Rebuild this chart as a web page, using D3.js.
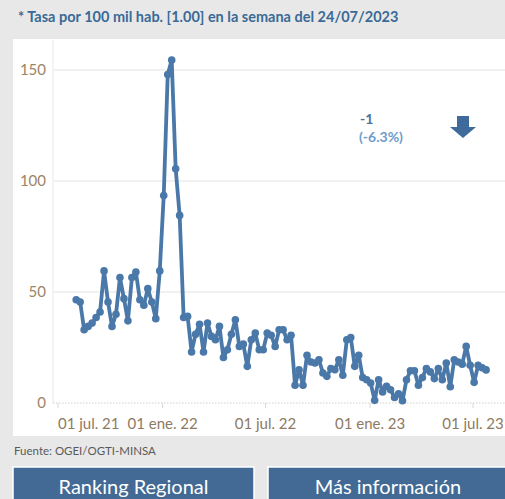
<!DOCTYPE html>
<html>
<head>
<meta charset="utf-8">
<style>
  body { margin: 0; background: #e8e8e8; }
  svg { display: block; }
  text { font-family: Lato, "Open Sans", sans-serif; }
</style>
</head>
<body>
<svg width="505" height="499"></svg>
<script src="https://cdn.jsdelivr.net/npm/d3@7"></script>
<script>
// weekly rate per 100k, weeks starting 2021-08-02 up to 2023-07-24
var firstWeek = "2021-08-02";
var rates = [
  46.5, 45.5, 33, 34.5, 36, 38.5, 41, 59.5, 45.5, 34.5,
  40, 56.5, 47, 37, 56.5, 59, 46.5, 44, 51.5, 45.5,
  38, 59.5, 93.5, 148, 154.5, 105.5, 84.5, 38.5, 39, 23,
  31, 35.5, 23, 36, 30, 28.5, 34.5, 20.5, 24, 31,
  37.5, 25.5, 26.5, 16.5, 28.5, 31.5, 24, 24, 31.5, 30.5,
  25.5, 33, 33, 28.5, 30.5, 8, 15, 8, 21.5, 18.5,
  18, 19.5, 13.5, 12, 15.5, 15, 19.5, 12.5, 28.5, 29.5,
  16.5, 21.5, 11.5, 10.5, 9, 1.2, 10.5, 5, 7.5, 6,
  2.5, 4.2, 1, 10.5, 14.5, 14.5, 8, 11.5, 15.5, 14,
  11, 15.5, 10.5, 18, 7.3, 19.5, 18.5, 17.5, 25.5, 17,
  9.3, 17, 15.9, 14.9
];
var yTicks = [0, 50, 100, 150];
var xTickDates = ["2021-07-01", "2022-01-01", "2022-07-01", "2023-01-01", "2023-07-01"];
var xTickLabels = ["01 jul. 21", "01 ene. 22", "01 jul. 22", "01 ene. 23", "01 jul. 23"];
var titleText = "* Tasa por 100 mil hab. [1.00] en la semana del 24/07/2023";
var changeText = "-1";
var changePct = "(-6.3%)";
var sourceText = "Fuente: OGEI/OGTI-MINSA";
var buttons = ["Ranking Regional", "Más información"];

var parse = d3.timeParse("%Y-%m-%d");
var start = parse(firstWeek);
var data = rates.map((v, i) => ({date: d3.timeDay.offset(start, i * 7), value: v}));

var svg = d3.select("svg");

// panels
svg.append("rect").attr("x", 0).attr("y", 0).attr("width", 505).attr("height", 499).attr("fill", "#e8e8e8");
svg.append("rect").attr("x", 13).attr("y", 39).attr("width", 492).attr("height", 397).attr("fill", "#fff");

svg.append("text").attr("x", 18).attr("y", 22)
    .attr("font-size", 14.5).attr("font-weight", "bold").attr("fill", "#3a6a96")
    .text(titleText);

var x = d3.scaleTime()
    .domain([parse(xTickDates[0]), parse(xTickDates[4])])
    .range([58, 473]);
var y = d3.scaleLinear().domain([0, 150]).range([403, 70]);

// grid
var grid = svg.append("g");
grid.selectAll("line").data(yTicks.filter(d => d > 0)).join("line")
    .attr("x1", 53).attr("x2", 505)
    .attr("y1", d => y(d)).attr("y2", d => y(d))
    .attr("stroke", "#ededed").attr("stroke-width", 1.5);
grid.append("line").attr("x1", 53).attr("x2", 53).attr("y1", 40).attr("y2", y(0))
    .attr("stroke", "#efefef").attr("stroke-width", 1.5);
grid.append("line").attr("x1", 53).attr("x2", 505).attr("y1", y(0)).attr("y2", y(0))
    .attr("stroke", "#cfcfcf").attr("stroke-dasharray", "1.5,1.5");

svg.append("g").selectAll("text").data(yTicks).join("text")
    .attr("x", 46).attr("y", d => y(d) + 5)
    .attr("text-anchor", "end").attr("font-size", 15).attr("fill", "#9c8466")
    .text(d => d);

var xt = svg.append("g");
xTickDates.forEach(function(s, i) {
    var px = x(parse(s));
    xt.append("line").attr("x1", px).attr("x2", px).attr("y1", y(0)).attr("y2", y(0) + 5)
        .attr("stroke", "#d8d8d8");
    xt.append("text")
        .attr("x", px)
        .attr("y", 429)
        .attr("text-anchor", i == 0 ? "start" : "middle")
        .attr("font-size", 15).attr("fill", "#8e7a62")
        .text(xTickLabels[i]);
});

// series
var line = d3.line().x(d => x(d.date)).y(d => y(d.value));
svg.append("path").datum(data)
    .attr("d", line).attr("fill", "none")
    .attr("stroke", "#4a78a9").attr("stroke-width", 3.8).attr("stroke-linejoin", "round");
svg.append("g").selectAll("circle").data(data).join("circle")
    .attr("cx", d => x(d.date)).attr("cy", d => y(d.value)).attr("r", 3.8)
    .attr("fill", "#4a78a9");

// change annotation
svg.append("text").attr("x", 360).attr("y", 124)
    .attr("font-size", 14).attr("font-weight", "bold").attr("fill", "#4f6f96")
    .text(changeText);
svg.append("text").attr("x", 359).attr("y", 142)
    .attr("font-size", 14).attr("font-weight", "bold").attr("fill", "#6d9ccc")
    .text(changePct);
svg.append("path")
    .attr("d", "M457,116 H469 V127 H476 L463,138 L450,127 H457 Z")
    .attr("fill", "#3f6b9c");

// footer
svg.append("text").attr("x", 14).attr("y", 455)
    .attr("font-size", 11.5).attr("fill", "#5a5a5a")
    .text(sourceText);

var btnX = [13, 268], btnW = [241, 240];
buttons.forEach(function(b, i) {
    svg.append("rect").attr("x", btnX[i]).attr("y", 467).attr("width", btnW[i]).attr("height", 40)
        .attr("fill", "#426a94").attr("stroke", "#fff").attr("stroke-width", 1.5);
    svg.append("text").attr("x", btnX[i] + btnW[i] / 2).attr("y", 494)
        .attr("text-anchor", "middle").attr("font-size", 20).attr("fill", "#fff")
        .text(b);
});
</script>
</body>
</html>
